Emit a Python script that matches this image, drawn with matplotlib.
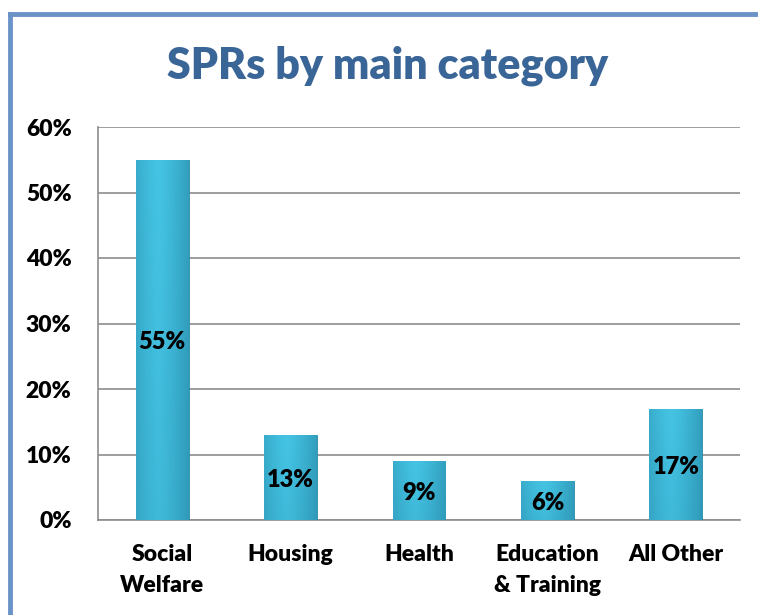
import matplotlib
matplotlib.use("Agg")
import matplotlib.pyplot as plt
import numpy as np
from matplotlib.lines import Line2D

categories = ["Social\nWelfare", "Housing", "Health", "Education\n& Training", "All Other"]
values = [55, 13, 9, 6, 17]
yticks = [0, 10, 20, 30, 40, 50, 60]
ytick_labels = ["0%", "10%", "20%", "30%", "40%", "50%", "60%"]
title = "SPRs by main category"

plt.rcParams['font.family'] = ['Lato', 'DejaVu Sans']
WEIGHT = 'heavy'

W, H = 758, 615
fig = plt.figure(figsize=(W/100, H/100), dpi=100)
ax = fig.add_axes([98/W, 1-520/H, (740-98)/W, (520-127)/H])

x = np.arange(len(categories))
bars = ax.bar(x, values, width=0.41, color="#36b0d2", zorder=3)

# gradient fill for bars
grad_h = np.linspace(0, 1, 64)
prof = 1 - 0.55*np.abs(grad_h - 0.42)**1.3*2
c_light = np.array([0x45, 0xc4, 0xe4]) / 255
c_dark = np.array([0x22, 0x80, 0x9e]) / 255
for b in bars:
    bx, by = b.get_x(), b.get_y()
    bw, bh = b.get_width(), b.get_height()
    vert = np.linspace(0.85, 1.0, 64)[:, None]
    t = prof[None, :] * vert
    img = c_dark[None, None, :] + (c_light - c_dark)[None, None, :] * t[:, :, None]
    im = ax.imshow(img, extent=[bx, bx+bw, by, by+bh], origin='lower',
                   aspect='auto', zorder=3.5, interpolation='bilinear')
    im.set_clip_path(b)
    b.set_edgecolor("#2a8aa8")
    b.set_linewidth(0.6)

for xi, v in zip(x, values):
    ax.text(xi, v/2 - 0.4, f"{v}%", ha='center', va='center', fontsize=17,
            fontweight=WEIGHT, color='black', zorder=5)

ax.set_xlim(-0.5, len(categories)-0.5)
ax.set_ylim(0, 60)
ax.set_yticks(yticks)
ax.set_yticklabels(ytick_labels)
ax.set_xticks(x)
ax.set_xticklabels(categories, linespacing=1.6)
ax.tick_params(axis='both', length=0, labelsize=16.5)
ax.tick_params(axis='x', pad=17)
ax.tick_params(axis='y', pad=19)
for lab in ax.get_xticklabels() + ax.get_yticklabels():
    lab.set_fontweight(WEIGHT)
ax.grid(axis='y', color='#8c8c8c', linewidth=1.2, zorder=0)
for s in ['top', 'right']:
    ax.spines[s].set_visible(False)
ax.spines['left'].set_color('#8c8c8c')
ax.spines['bottom'].set_color('#8c8c8c')
ax.spines['left'].set_linewidth(1.2)
ax.spines['bottom'].set_linewidth(1.2)

fig.text(388/W, 1-66/H, title, ha='center', va='center', fontsize=31,
         fontweight=WEIGHT, color='#3a6597')

# outer border (top and left)
fig.add_artist(Line2D([9.5/W, 1], [1-14/H, 1-14/H], transform=fig.transFigure,
                      color='#6b93c8', linewidth=3.5))
fig.add_artist(Line2D([9.5/W, 9.5/W], [0, 1-14/H], transform=fig.transFigure,
                      color='#6b93c8', linewidth=3.5))

fig.savefig("out.png", dpi=100)
